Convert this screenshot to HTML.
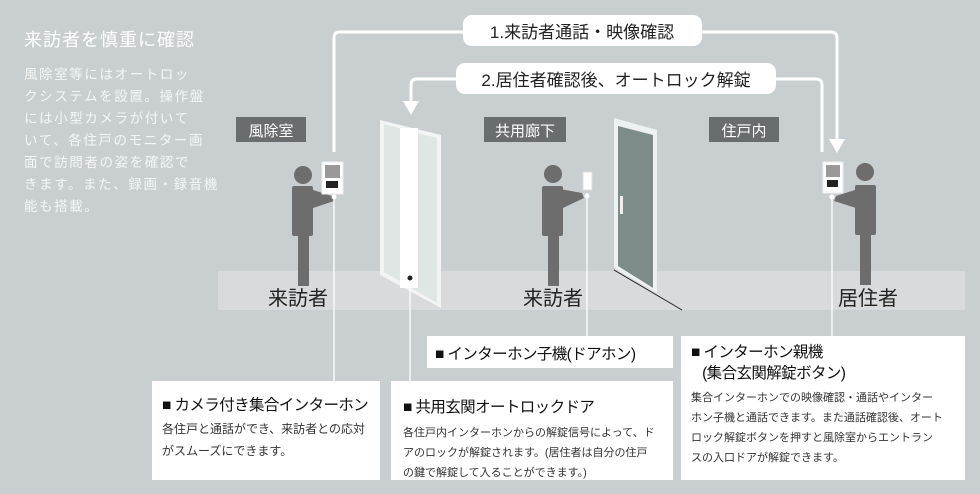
<!DOCTYPE html>
<html><head><meta charset="utf-8"><style>
body{margin:0;width:980px;height:494px;overflow:hidden;background:#c9cfd1;font-family:"Liberation Sans","Noto Sans CJK JP",sans-serif}
svg{position:absolute;left:0;top:0}
.t{position:absolute;color:#fff}
.box{position:absolute;background:#fff;color:#222}
.h{font-size:15.5px;font-weight:normal;white-space:nowrap;color:#111;letter-spacing:-0.6px}
.p{font-size:12px;line-height:22px;color:#333;white-space:nowrap}
</style></head><body>
<svg width="980" height="494">
<rect x="218" y="271" width="747" height="39" fill="#d8dadb"/>
<path d="M334 152 V38 Q334 32 340 32 H831 Q837 32 837 38 V140" fill="none" stroke="#fff" stroke-width="3"/>
<polygon points="829,139 845,139 837,153" fill="#fff"/>
<path d="M822 152 V85 Q822 79 816 79 H417 Q411 79 411 85 V102" fill="none" stroke="#fff" stroke-width="3"/>
<polygon points="403,101 419,101 411,115" fill="#fff"/>
<rect x="463" y="15" width="239" height="31" rx="9" fill="#fff"/>
<rect x="456" y="63" width="320" height="31" rx="9" fill="#fff"/>
<rect x="236" y="117" width="70" height="25" fill="#6a6d6e"/>
<rect x="484" y="117" width="82" height="25" fill="#6a6d6e"/>
<rect x="709" y="117" width="70" height="25" fill="#6a6d6e"/>
<polygon points="380,120 441,135 441,308 380,275" fill="#f2f5f4"/>
<polygon points="384,124 437,138 437,303 384,272" fill="#dfe7e4"/>
<rect x="400" y="128" width="18" height="160" fill="#fff"/>
<circle cx="410" cy="278" r="2.5" fill="#222"/>
<polygon points="614,118 657,130 657,293 614,268" fill="#eef1f1"/>
<polygon points="618,126 653,135 653,288 618,266" fill="#7e8b8b"/>
<rect x="620" y="196" width="3" height="18" fill="#eee"/>
<line x1="614" y1="270" x2="682" y2="310" stroke="#222" stroke-width="1"/>
<g fill="#6d6d6d">
<circle cx="303" cy="175" r="9"/>
<rect x="292" y="186" width="21" height="50" rx="2"/>
<rect x="298" y="234" width="11" height="52"/>
<path d="M310 189 L332 196 L334 201 L313 208 Z"/>
</g>
<rect x="322" y="162" width="21" height="32" fill="#fff" stroke="#eee"/>
<rect x="325" y="165" width="15" height="13" fill="#999"/>
<rect x="326" y="181" width="12" height="7" fill="#222"/>
<g fill="#6d6d6d">
<circle cx="553" cy="174" r="9"/>
<rect x="542" y="186" width="21" height="50" rx="2"/>
<rect x="548" y="234" width="11" height="52"/>
<path d="M560 189 L582 193 L584 198 L563 208 Z"/>
</g>
<rect x="583" y="172" width="9" height="18" fill="#fff" stroke="#ddd"/>
<g fill="#6d6d6d">
<circle cx="865" cy="172" r="9"/>
<rect x="855" y="185" width="21" height="50" rx="2"/>
<rect x="860" y="233" width="11" height="52"/>
<path d="M858 189 L836 196 L834 201 L856 208 Z"/>
</g>
<rect x="823" y="162" width="20" height="31" fill="#fff" stroke="#eee"/>
<rect x="826" y="165" width="14" height="12" fill="#999"/>
<rect x="827" y="180" width="11" height="7" fill="#222"/>
<g stroke="#fff" stroke-width="1.3">
<line x1="334" y1="197" x2="334" y2="381"/>
<line x1="410" y1="283" x2="410" y2="381"/>
<line x1="587" y1="193" x2="587" y2="336"/>
<line x1="832" y1="196" x2="832" y2="336"/>
</g>
<g fill="#fff"><circle cx="334" cy="197" r="2.5"/><circle cx="587" cy="196" r="2.5"/><circle cx="832" cy="197" r="2.5"/></g>
<g font-size="20" fill="#222" font-family="Liberation Sans, Noto Sans CJK JP, sans-serif" text-anchor="middle">
<text x="298" y="305">来訪者</text><text x="553" y="305">来訪者</text><text x="868" y="305">居住者</text>
</g>
<g font-size="17" fill="#222" text-anchor="middle" font-family="Liberation Sans, Noto Sans CJK JP, sans-serif">
<text x="582" y="38">1.来訪者通話・映像確認</text>
<text x="616" y="86">2.居住者確認後、オートロック解錠</text>
</g>
<g font-size="15" fill="#fff" text-anchor="middle" font-family="Liberation Sans, Noto Sans CJK JP, sans-serif">
<text x="271" y="136">風除室</text><text x="525" y="136">共用廊下</text><text x="744" y="136">住戸内</text>
</g>
</svg>
<div class="t" style="left:24px;top:26px;font-size:18px;letter-spacing:1px">来訪者を慎重に確認</div>
<div class="t" style="left:24px;top:64px;font-size:13.5px;line-height:22px;letter-spacing:1.6px;color:#f4f6f6">風除室等にはオートロッ<br>クシステムを設置。操作盤<br>には小型カメラが付いて<br>いて、各住戸のモニター画<br>面で訪問者の姿を確認で<br>きます。また、録画・録音機<br>能も搭載。</div>
<div class="box" style="left:152px;top:381px;width:228px;height:99px">
<div class="h" style="position:absolute;left:10px;top:12px">■ カメラ付き集合インターホン</div>
<div class="p" style="position:absolute;left:10px;top:37px">各住戸と通話ができ、来訪者との応対<br>がスムーズにできます。</div></div>
<div class="box" style="left:391px;top:381px;width:282px;height:99px">
<div class="h" style="position:absolute;left:12px;top:14px">■ 共用玄関オートロックドア</div>
<div class="p" style="position:absolute;left:12px;top:42px;font-size:11px;line-height:20px">各住戸内インターホンからの解錠信号によって、ド<br>アのロックが解錠されます。(居住者は自分の住戸<br>の鍵で解錠して入ることができます。)</div></div>
<div class="box" style="left:427px;top:336px;width:246px;height:32px">
<div class="h" style="position:absolute;left:8px;top:6px">■ インターホン子機(ドアホン)</div></div>
<div class="box" style="left:681px;top:336px;width:284px;height:144px">
<div class="h" style="position:absolute;left:10px;top:6px;line-height:21px">■ インターホン親機<br>&nbsp;&nbsp;&nbsp;(集合玄関解錠ボタン)</div>
<div class="p" style="position:absolute;left:10px;top:52px;font-size:11px;line-height:20px">集合インターホンでの映像確認・通話やインター<br>ホン子機と通話できます。また通話確認後、オート<br>ロック解錠ボタンを押すと風除室からエントラン<br>スの入口ドアが解錠できます。</div></div>
</body></html>
